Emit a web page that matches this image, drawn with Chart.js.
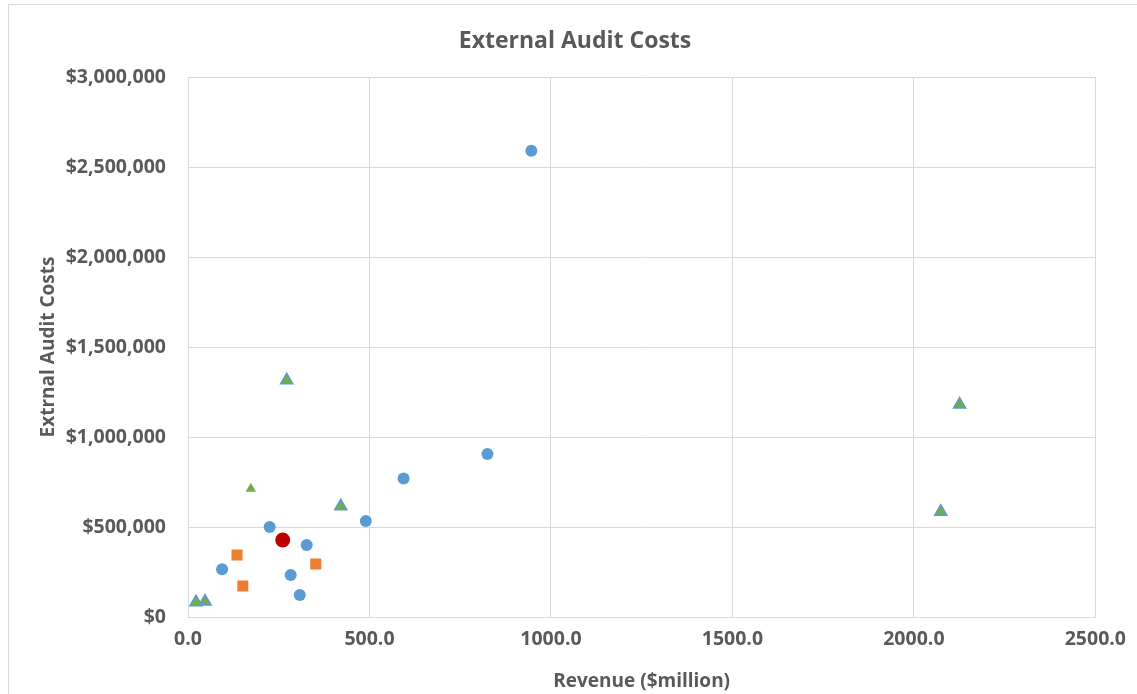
<!DOCTYPE html>
<html>
<head>
<meta charset="utf-8">
<script src="https://cdn.jsdelivr.net/npm/chart.js@4/dist/chart.umd.min.js"></script>
<style>
  html, body { margin: 0; padding: 0; background: #fff; overflow: hidden; }
  #frame {
    position: absolute; left: 8px; top: 4px; width: 1200px; height: 800px;
    border: 1px solid #d9d9d9; box-sizing: border-box;
  }
  #wrap { position: absolute; left: 0; top: 0; width: 1137px; height: 694px; }
</style>
</head>
<body>
<div id="frame"></div>
<div id="wrap"><canvas id="auditChart"></canvas></div>
<script>
// revenue ($million) vs external audit cost
const blueRevenue = [946, 825, 594, 490, 225, 327, 94, 283, 308];
const blueCost = [2590000, 905000, 770000, 533000, 500000, 400000, 265000, 233000, 122000];

const redRevenue = [261];
const redCost = [428000];

const orangeRevenue = [135, 352, 151];
const orangeCost = [345000, 295000, 172000];

const triRevenue = [272, 421, 2126, 2074, 22, 47];
const triCost = [1315000, 615000, 1180000, 585000, 82000, 86000];

const greenRevenue = [173];
const greenCost = [712000];

const xTicks = [0, 500, 1000, 1500, 2000, 2500];
const yTicks = [0, 500000, 1000000, 1500000, 2000000, 2500000, 3000000];

const gray = "#595959";
const gridColor = "#d9d9d9";

function toPoints(xs, ys) {
  return xs.map((x, i) => ({ x: x, y: ys[i] }));
}

function initChart() {
  const ctx = document.getElementById("auditChart").getContext("2d");
  Chart.defaults.font.family = "'Open Sans', Lato, sans-serif";

  new Chart(ctx, {
    type: "scatter",
    data: {
      datasets: [
        {
          data: toPoints(blueRevenue, blueCost),
          pointStyle: "circle",
          pointRadius: 6,
          backgroundColor: "#5B9BD5",
          borderColor: "#5B9BD5",
          borderWidth: 0,
        },
        {
          data: toPoints(orangeRevenue, orangeCost),
          pointStyle: "rect",
          pointRadius: 7.8,
          backgroundColor: "#ED7D31",
          borderColor: "#ED7D31",
          borderWidth: 0,
        },
        {
          data: toPoints(triRevenue, triCost),
          pointStyle: "triangle",
          pointRadius: 7,
          backgroundColor: "#70AD47",
          borderColor: "#5B9BD5",
          borderWidth: 1.5,
        },
        {
          data: toPoints(greenRevenue, greenCost),
          pointStyle: "triangle",
          pointRadius: 6,
          backgroundColor: "#70AD47",
          borderColor: "#70AD47",
          borderWidth: 0,
        },
        {
          data: toPoints(redRevenue, redCost),
          pointStyle: "circle",
          pointRadius: 7.5,
          backgroundColor: "#C00000",
          borderColor: "#C00000",
          borderWidth: 0,
        },
      ],
    },
    options: {
      responsive: true,
      maintainAspectRatio: false,
      animation: false,
      events: [],
      // left padding keeps the title centred like the original
      layout: { padding: { left: 53, right: 40, top: 0, bottom: 0 } },
      plugins: {
        legend: { display: false },
        tooltip: { enabled: false },
        title: {
          display: true,
          text: "External Audit Costs",
          color: gray,
          font: { size: 23, weight: "bold" },
          padding: { top: 27.5, bottom: 21.9 },
        },
      },
      scales: {
        x: {
          type: "linear",
          min: 0,
          max: 2500,
          afterBuildTicks: (scale) => {
            scale.ticks = xTicks.map((v) => ({ value: v }));
          },
          afterFit: (scale) => {
            scale.height = 77;
          },
          ticks: {
            color: gray,
            font: { size: 19.5, weight: "bold" },
            padding: 11,
            maxRotation: 0,
            callback: (v) => Number(v).toFixed(1),
          },
          grid: { color: gridColor, drawTicks: false },
          border: { color: gridColor },
          title: {
            display: true,
            text: "Revenue ($million)",
            color: gray,
            font: { size: 19, weight: "bold" },
            padding: { top: 0, bottom: 1 },
          },
        },
        y: {
          type: "linear",
          min: 0,
          max: 3000000,
          afterBuildTicks: (scale) => {
            scale.ticks = yTicks.map((v) => ({ value: v }));
          },
          afterFit: (scale) => {
            scale.width = 135;
          },
          ticks: {
            color: gray,
            font: { size: 19.5, weight: "bold" },
            padding: 22,
            callback: (v) => "$" + Number(v).toLocaleString("en-US"),
          },
          grid: { color: gridColor, drawTicks: false },
          border: { color: gridColor },
          title: {
            display: true,
            text: "Extrnal Audit Costs",
            color: gray,
            font: { size: 19, weight: "bold" },
            padding: { top: -15.5, bottom: 0 },
          },
        },
      },
    },
  });
}

document.addEventListener("DOMContentLoaded", () => {
  initChart();
});
</script>
</body>
</html>
